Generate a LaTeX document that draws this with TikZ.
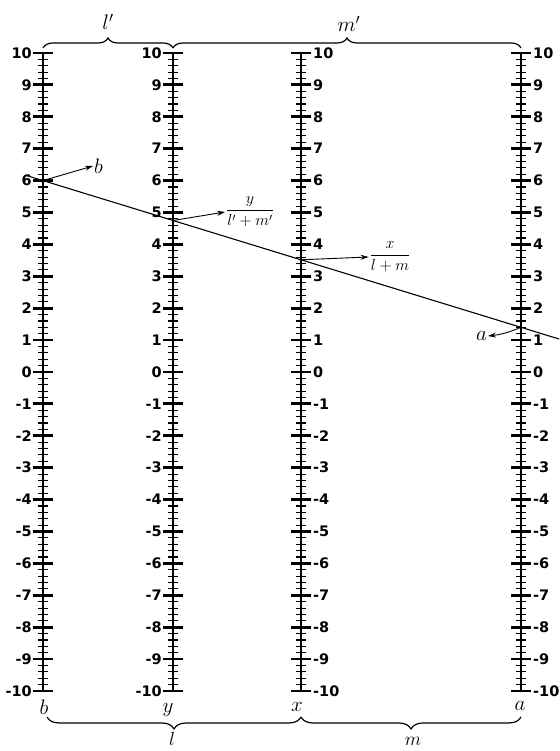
\documentclass[tikz,border=0pt]{standalone}
\usepackage{fix-cm}
\usepackage{fontspec}
\usepackage{amsmath}
\setsansfont{DejaVu Sans}
\usetikzlibrary{decorations.pathreplacing, arrows.meta, positioning, calc}
\tikzset{
    axisline/.style={line width=1.3pt},
    majortick/.style={line width=2.8pt},
    minortick/.style={line width=1.1pt},
    numlabel/.style={font=\fontsize{14.5}{14.5}\sffamily\bfseries, inner sep=0pt},
    varlabel/.style={font=\fontsize{21}{21}\selectfont, inner sep=1pt},
    fraclabel/.style={font=\fontsize{16}{16}\selectfont, inner sep=1pt},
    indexline/.style={line width=1.1pt},
    pointer/.style={-{Stealth[length=8pt, width=5pt]}, line width=0.9pt},
    upbrace/.style={decorate, decoration={brace, amplitude=10pt}, line width=1.2pt},
    downbrace/.style={decorate, decoration={brace, mirror, amplitude=12pt}, line width=1.2pt},
}
\begin{document}
\begin{tikzpicture}[x=1pt, y=1pt]
\useasboundingbox (0,0) rectangle (559,751);

% Scale a quattro assi
\begin{scope}[shift={(0,379)}, y=31.9pt]
    \foreach \nm/\ax/\an/\dx in {b/43/east/-11, y/173/east/-11, x/301/west/12, a/521/west/12}{
        \draw[axisline] (\ax,-10) coordinate (\nm-bot) -- (\ax,10) coordinate (\nm-top);
        \foreach \v in {-10,...,10}{
            \draw[majortick] (\ax-10,\v) -- (\ax+10,\v);
            \node[numlabel, anchor=\an] (\nm-num\v) at (\ax+\dx,\v) {\v};
        }
        \foreach \v in {-10,...,9}
            \foreach \f in {0.2,0.4,0.6,0.8}
                \draw[minortick] (\ax-5,\v+\f) -- (\ax+5,\v+\f);
    }
    % punti della retta indice
    \coordinate (cb) at (43,6);
    \coordinate (ca) at (521,1.4);
\end{scope}

% Retta indice
\coordinate (cy) at ($(cb)!130/478!(ca)$);
\coordinate (cx) at ($(cb)!258/478!(ca)$);
\draw[indexline] ($(cb)!-0.035!(ca)$) -- ($(ca)!-0.08!(cb)$);

% Etichette con frecce
\node[varlabel, anchor=west] (lb) at (93,585) {$b$};
\node[fraclabel] (fy) at (250,539) {$\dfrac{y}{l'+m'}$};
\node[fraclabel] (fx) at (390,494) {$\dfrac{x}{l+m}$};
\node[varlabel, anchor=east] (la) at (488,415) {$a$};
\draw[pointer] (cb) -- (lb.west);
\draw[pointer] (cy) -- (fy.west);
\draw[pointer] (cx) -- (fx.west);
\draw[pointer] (ca) to[bend left=8] (la.east);

% Nomi degli assi
\node[varlabel] (nb) at (44,44) {$b$};
\node[varlabel] (ny) at (168,41) {$y$};
\node[varlabel] (nx) at (297,44) {$x$};
\node[varlabel] (na) at (520,45) {$a$};

% Graffe superiori
\draw[upbrace] ([yshift=5pt]b-top) -- ([yshift=5pt]y-top);
\draw[upbrace] ([yshift=5pt]y-top) -- ([yshift=5pt]a-top);
\node[varlabel] (lp) at (108,729) {$l'$};
\node[varlabel] (mp) at (349,727) {$m'$};

% Graffe inferiori
\draw[downbrace] ([xshift=4pt, yshift=-26pt]b-bot) -- ([yshift=-26pt]x-bot);
\draw[downbrace] ([yshift=-26pt]x-bot) -- ([yshift=-26pt]a-bot);
\node[varlabel, anchor=north, inner sep=0.5pt, font=\fontsize{19}{19}\selectfont] (nl) at (172,19) {$l$};
\node[varlabel, font=\fontsize{19}{19}\selectfont] (nm) at (413,10) {$m$};
\end{tikzpicture}
\end{document}
